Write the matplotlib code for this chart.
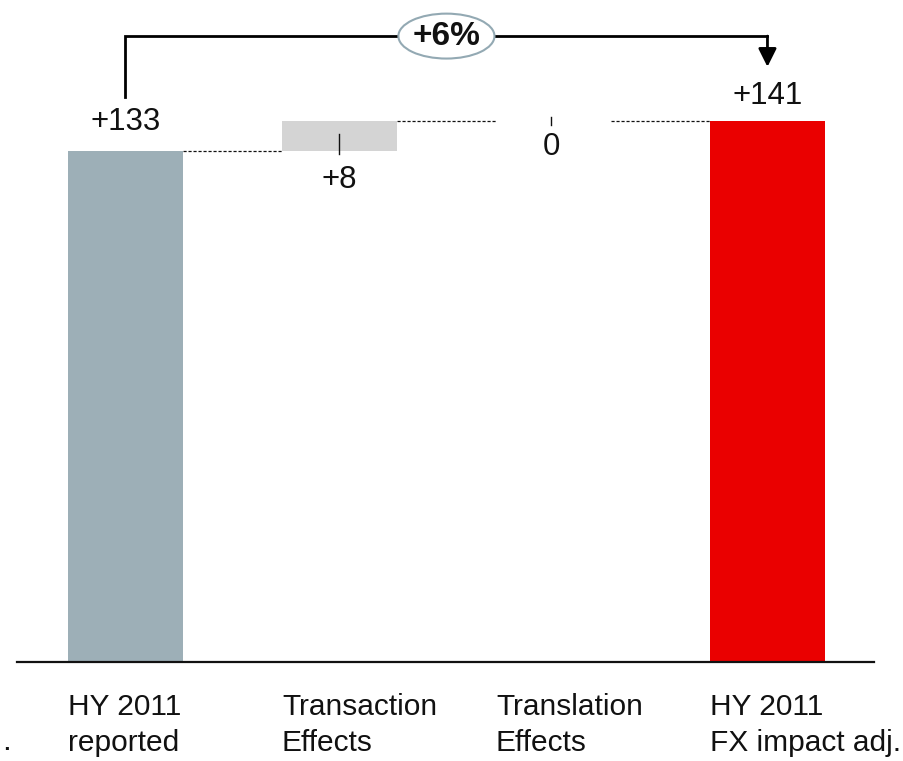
import matplotlib.pyplot as plt
from matplotlib.patches import Ellipse

# data
categories = ["HY 2011\nreported", "Transaction\nEffects", "Translation\nEffects", "HY 2011\nFX impact adj."]
start_value = 133
deltas = [8, 0]
end_value = 141
value_labels = ["+133", "+8", "0", "+141"]
growth_label = "+6%"

GRAY_BAR = "#9DAFB7"
DELTA_BAR = "#D4D4D4"
RED = "#EA0000"
TEXT = "#111111"
RING = "#93A9B3"

plt.rcParams.update({"font.family": ["Liberation Sans", "DejaVu Sans"]})

fig = plt.figure(figsize=(9.04, 7.61), dpi=100)
ax = fig.add_axes([0, 0, 1, 1])
ax.set_xlim(-0.586, 3.638)
ax.set_ylim(-25.8, 172.4)
ax.axis("off")

w = 0.537
x = list(range(len(categories)))

# bar bottoms / heights for the waterfall
bottoms = [0]
heights = [start_value]
level = start_value
for d in deltas:
    bottoms.append(level)
    heights.append(d)
    level += d
bottoms.append(0)
heights.append(end_value)
colors = [GRAY_BAR, DELTA_BAR, DELTA_BAR, RED]

ax.bar(x, heights, bottom=bottoms, width=w, color=colors, edgecolor="none", zorder=2)

# dashed connectors between bars
tops = [b + h for b, h in zip(bottoms, heights)]
for i in range(len(x) - 1):
    ax.plot([x[i] + w / 2, x[i + 1] - w / 2], [tops[i], tops[i]],
            ls=(0, (2.5, 1.5)), lw=0.9, color=TEXT, zorder=1)

fs = 22.5

# totals labels
ax.text(x[0], tops[0] + 7.6, value_labels[0], ha="center", va="center", fontsize=fs, color=TEXT)
ax.text(x[3], tops[3] + 6.3, value_labels[3], ha="center", va="center", fontsize=fs, color=TEXT)

# delta labels with leader ticks
ax.plot([x[1], x[1]], [bottoms[1] + 4.5, bottoms[1] - 0.8], color=TEXT, lw=1.0, zorder=3)
ax.text(x[1], bottoms[1] - 7.4, value_labels[1], ha="center", va="center", fontsize=fs, color=TEXT)
ax.plot([x[2] - 0.01, x[2] - 0.01], [bottoms[2] + 0.8, bottoms[2] - 1.2], color=TEXT, lw=1.0, zorder=3)
ax.text(x[2] - 0.01, bottoms[2] - 6.9, value_labels[2], ha="center", va="center", fontsize=fs, color=TEXT)

# baseline
ax.plot([-0.507, 3.498], [0, 0], color=TEXT, lw=1.6, zorder=3)

# category labels
for xi, lab in zip(x, categories):
    ax.text(xi - w / 2, -8.2, lab, ha="left", va="top", fontsize=21.5, color=TEXT, linespacing=1.33)

# bracket with growth
yb = 163.0
ax.plot([x[0], x[0], x[3]], [147.1, yb, yb], color="black", lw=2.0, zorder=3, solid_joinstyle="miter")
ax.annotate("", xy=(x[3], 155.0), xytext=(x[3], yb),
            arrowprops=dict(arrowstyle="-|>,head_length=1.1,head_width=0.55", color="black", lw=2.0,
                            shrinkA=0, shrinkB=0))
ell = Ellipse(((x[0] + x[3]) / 2, yb), 0.449, 11.7, facecolor="white", edgecolor=RING, lw=1.5, zorder=4)
ax.add_patch(ell)
ax.text((x[0] + x[3]) / 2, yb, growth_label, ha="center", va="center", fontsize=24,
        fontweight="bold", color=TEXT, zorder=5)

fig.text(0.002, 0.015, ".", fontsize=fs, color=TEXT)

fig.savefig("out.png", dpi=100)
